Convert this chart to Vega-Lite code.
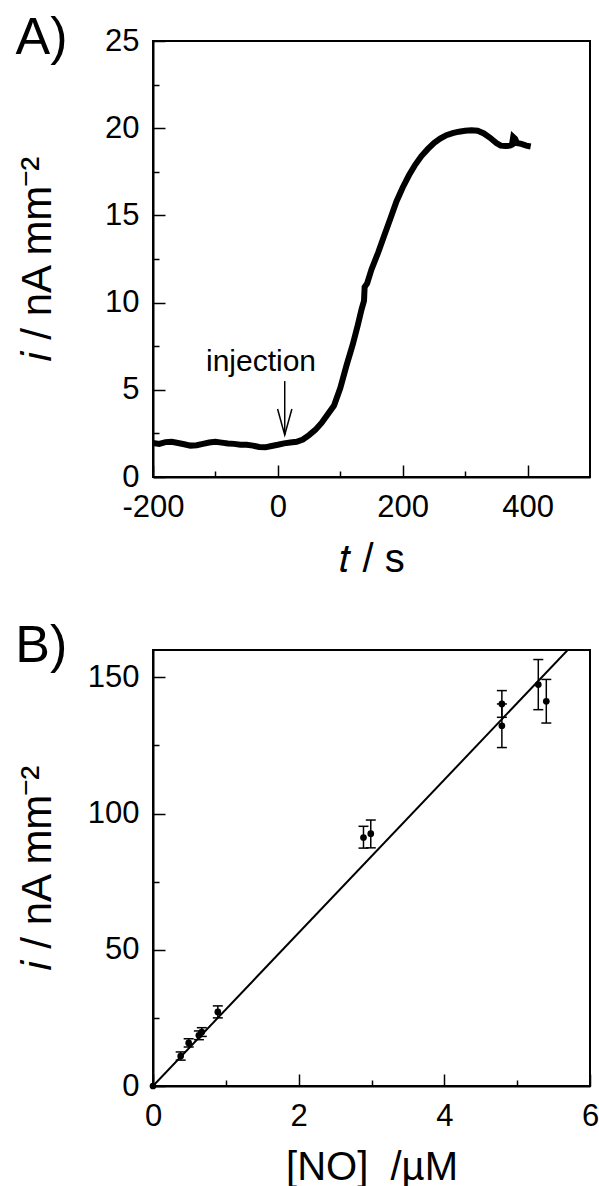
{
  "$schema": "https://vega.github.io/schema/vega-lite/v6.json",
  "background": "white",
  "padding": {"left": 14, "top": 11, "right": 5, "bottom": 0},
  "spacing": 39,
  "config": {
    "font": "Liberation Sans",
    "view": {"stroke": "black", "strokeWidth": 2},
    "axis": {
      "grid": false,
      "domainColor": "black",
      "domainWidth": 2,
      "tickColor": "black",
      "tickWidth": 1.5,
      "labelFont": "Liberation Sans",
      "labelFontSize": 31,
      "labelColor": "black",
      "titleFont": "Liberation Sans",
      "titleFontSize": 40,
      "titleFontWeight": "normal",
      "titleColor": "black",
      "labelFlush": false,
      "labelOverlap": false,
      "labelBound": false
    },
    "axisY": {"titleFontSize": 42},
    "title": {"font": "Liberation Sans", "fontSize": 52, "fontWeight": "normal", "color": "black", "anchor": "start", "frame": "bounds"}
  },
  "vconcat": [
    {
      "width": 437,
      "height": 436,
      "title": {"text": "A)", "offset": -81, "dx": -1, "baseline": "alphabetic"},
      "layer": [
        {
          "data": {"values": [
            {"t": -200, "i": 1.95}, {"t": -190, "i": 1.9}, {"t": -180, "i": 2.0}, {"t": -170, "i": 2.02},
            {"t": -160, "i": 1.95}, {"t": -150, "i": 1.88}, {"t": -140, "i": 1.8}, {"t": -130, "i": 1.82},
            {"t": -120, "i": 1.9}, {"t": -110, "i": 1.98}, {"t": -100, "i": 2.02}, {"t": -90, "i": 1.97},
            {"t": -80, "i": 1.92}, {"t": -70, "i": 1.9}, {"t": -60, "i": 1.85}, {"t": -50, "i": 1.85},
            {"t": -40, "i": 1.8}, {"t": -30, "i": 1.72}, {"t": -20, "i": 1.7}, {"t": -10, "i": 1.78},
            {"t": 0, "i": 1.85}, {"t": 10, "i": 1.93}, {"t": 20, "i": 1.98}, {"t": 30, "i": 2.02},
            {"t": 40, "i": 2.15}, {"t": 50, "i": 2.4}, {"t": 60, "i": 2.7}, {"t": 70, "i": 3.1},
            {"t": 80, "i": 3.6}, {"t": 90, "i": 4.1}, {"t": 100, "i": 5.1}, {"t": 110, "i": 6.4},
            {"t": 120, "i": 7.6}, {"t": 128, "i": 8.7}, {"t": 134, "i": 9.6}, {"t": 138, "i": 10.1},
            {"t": 139, "i": 10.9}, {"t": 143, "i": 11.1}, {"t": 150, "i": 11.9}, {"t": 161, "i": 12.9},
            {"t": 170, "i": 13.8}, {"t": 180, "i": 14.8}, {"t": 190, "i": 15.8}, {"t": 200, "i": 16.6},
            {"t": 210, "i": 17.3}, {"t": 220, "i": 17.9}, {"t": 230, "i": 18.4}, {"t": 240, "i": 18.8},
            {"t": 250, "i": 19.15}, {"t": 260, "i": 19.4}, {"t": 270, "i": 19.6}, {"t": 280, "i": 19.72},
            {"t": 290, "i": 19.8}, {"t": 300, "i": 19.85}, {"t": 310, "i": 19.88}, {"t": 320, "i": 19.85},
            {"t": 330, "i": 19.7}, {"t": 340, "i": 19.45}, {"t": 350, "i": 19.15}, {"t": 357, "i": 19.0},
            {"t": 365, "i": 18.98}, {"t": 372, "i": 19.0}, {"t": 375, "i": 19.05}, {"t": 377, "i": 19.5},
            {"t": 380, "i": 19.4}, {"t": 383, "i": 19.15}, {"t": 390, "i": 19.1}, {"t": 398, "i": 19.0},
            {"t": 405, "i": 18.95}
          ]},
          "mark": {"type": "line", "color": "black", "strokeWidth": 6},
          "encoding": {
            "x": {
              "field": "t", "type": "quantitative", "title": "𝑡 / s",
              "scale": {"domain": [-200, 500], "nice": false, "zero": false},
              "axis": {
                "values": [-200, -100, 0, 100, 200, 300, 400],
                "labelExpr": "datum.value % 200 === 0 ? replace(datum.label, '−', '-') : ''",
                "tickSize": {"condition": {"test": "datum.value % 200 === 0", "value": -12}, "value": -6},
                "labelPadding": 27,
                "titlePadding": 11
              }
            },
            "y": {
              "field": "i", "type": "quantitative", "title": "𝑖 / nA mm⁻²",
              "scale": {"domain": [0, 25], "nice": false},
              "axis": {
                "values": [0, 2.5, 5, 7.5, 10, 12.5, 15, 17.5, 20, 22.5, 25],
                "labelExpr": "datum.value % 5 === 0 ? datum.label : ''",
                "tickSize": {"condition": {"test": "datum.value % 5 === 0", "value": -12}, "value": -6},
                "labelPadding": 26,
                "titlePadding": 45
              }
            }
          }
        },
        {
          "data": {"values": [{"t": -27, "i": 6.05, "label": "injection"}]},
          "mark": {"type": "text", "fontSize": 30, "baseline": "alphabetic", "align": "center", "color": "black"},
          "encoding": {
            "x": {"field": "t", "type": "quantitative", "title": "𝑡 / s"},
            "y": {"field": "i", "type": "quantitative", "title": "𝑖 / nA mm⁻²"},
            "text": {"field": "label"}
          }
        },
        {
          "data": {"values": [{"t": 11, "top": 5.5, "tip": 2.41}]},
          "mark": {"type": "rule", "strokeWidth": 1.5, "color": "black"},
          "encoding": {
            "x": {"field": "t", "type": "quantitative", "title": "𝑡 / s"},
            "y": {"field": "top", "type": "quantitative", "title": "𝑖 / nA mm⁻²"},
            "y2": {"field": "tip"}
          }
        },
        {
          "data": {"values": [{"t": 11, "top": 5.5, "tip": 2.41}]},
          "mark": {"type": "point", "shape": "M-0.55,-2L0,0L0.55,-2", "size": 676, "filled": false, "stroke": "black", "strokeWidth": 1.5, "opacity": 1},
          "encoding": {
            "x": {"field": "t", "type": "quantitative", "title": "𝑡 / s"},
            "y": {"field": "tip", "type": "quantitative", "title": "𝑖 / nA mm⁻²"}
          }
        }
      ]
    },
    {
      "width": 437,
      "height": 436,
      "title": {"text": "B)", "offset": -64, "dx": -1, "baseline": "alphabetic"},
      "layer": [
        {
          "data": {"values": [{"c": 0, "i": 0}, {"c": 6, "i": 168.6}]},
          "mark": {"type": "line", "color": "black", "strokeWidth": 2, "clip": true},
          "encoding": {
            "x": {
              "field": "c", "type": "quantitative", "title": "[NO]\u00a0 /µM",
              "scale": {"domain": [0, 6], "nice": false},
              "axis": {
                "values": [0, 1, 2, 3, 4, 5, 6],
                "format": "d",
                "labelExpr": "datum.value % 2 === 0 ? datum.label : ''",
                "tickSize": {"condition": {"test": "datum.value % 2 === 0", "value": -12}, "value": -6},
                "labelPadding": 27,
                "titlePadding": 10
              }
            },
            "y": {
              "field": "i", "type": "quantitative", "title": "𝑖 / nA mm⁻²",
              "scale": {"domain": [0, 160], "nice": false},
              "axis": {
                "values": [0, 25, 50, 75, 100, 125, 150],
                "format": "d",
                "labelExpr": "datum.value % 50 === 0 ? datum.label : ''",
                "tickSize": {"condition": {"test": "datum.value % 50 === 0", "value": -12}, "value": -6},
                "labelPadding": 26,
                "titlePadding": 28
              }
            }
          }
        },
        {
          "data": {"name": "pts", "values": [
            {"c": 0, "i": 0, "lo": null, "hi": null},
            {"c": 0.38, "i": 11.0, "lo": 9.5, "hi": 12.5},
            {"c": 0.49, "i": 15.8, "lo": 14.3, "hi": 17.3},
            {"c": 0.63, "i": 18.6, "lo": 17.0, "hi": 20.2},
            {"c": 0.67, "i": 19.8, "lo": 18.2, "hi": 21.4},
            {"c": 0.89, "i": 27.2, "lo": 25.0, "hi": 29.4},
            {"c": 2.89, "i": 91.2, "lo": 87.3, "hi": 95.3},
            {"c": 2.99, "i": 92.6, "lo": 87.4, "hi": 97.6},
            {"c": 4.79, "i": 140.2, "lo": 135.3, "hi": 145.1},
            {"c": 4.79, "i": 132.2, "lo": 124.2, "hi": 140.2},
            {"c": 5.29, "i": 147.3, "lo": 138.1, "hi": 156.5},
            {"c": 5.40, "i": 141.2, "lo": 133.2, "hi": 149.2}
          ]},
          "layer": [
            {
              "mark": {"type": "rule", "strokeWidth": 1.5, "color": "black"},
              "encoding": {
                "x": {"field": "c", "type": "quantitative", "title": "[NO]\u00a0 /µM"},
                "y": {"field": "lo", "type": "quantitative", "title": "𝑖 / nA mm⁻²"},
                "y2": {"field": "hi"}
              }
            },
            {
              "mark": {"type": "tick", "orient": "horizontal", "size": 10, "thickness": 1.5, "color": "black", "opacity": 1},
              "encoding": {
                "x": {"field": "c", "type": "quantitative", "title": "[NO]\u00a0 /µM"},
                "y": {"field": "lo", "type": "quantitative", "title": "𝑖 / nA mm⁻²"}
              }
            },
            {
              "mark": {"type": "tick", "orient": "horizontal", "size": 10, "thickness": 1.5, "color": "black", "opacity": 1},
              "encoding": {
                "x": {"field": "c", "type": "quantitative", "title": "[NO]\u00a0 /µM"},
                "y": {"field": "hi", "type": "quantitative", "title": "𝑖 / nA mm⁻²"}
              }
            },
            {
              "mark": {"type": "circle", "size": 45, "color": "black", "opacity": 1},
              "encoding": {
                "x": {"field": "c", "type": "quantitative", "title": "[NO]\u00a0 /µM"},
                "y": {"field": "i", "type": "quantitative", "title": "𝑖 / nA mm⁻²"}
              }
            }
          ]
        }
      ]
    }
  ]
}
